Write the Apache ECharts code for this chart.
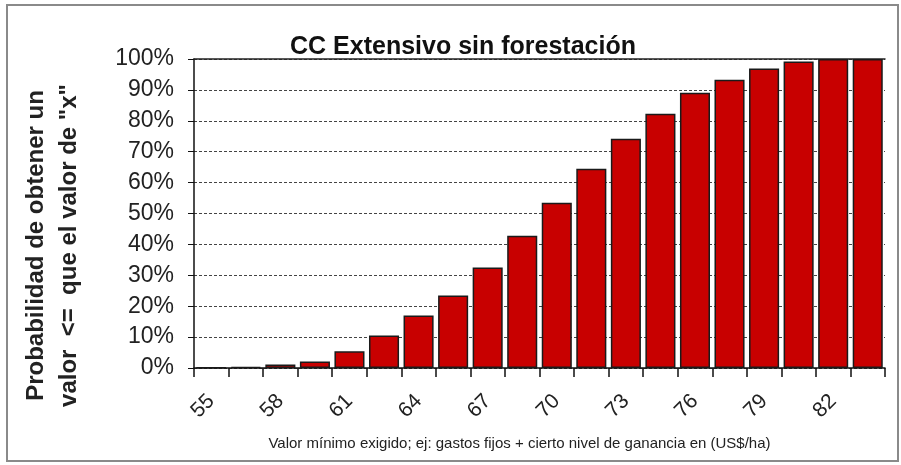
<!DOCTYPE html>
<html>
<head>
<meta charset="utf-8">
<script src="https://cdn.jsdelivr.net/npm/echarts@6/dist/echarts.min.js"></script>
<style>
  html, body { margin: 0; padding: 0; background: #fff; }
  #wrap { position: relative; width: 901px; height: 465px; }
  #chart { width: 901px; height: 465px; }
  .frame {
    position: absolute; left: 6px; top: 4px; width: 889px; height: 454px;
    border: 2px solid #8a8a8a; pointer-events: none;
  }
</style>
</head>
<body>
<div id="wrap">
  <div id="chart"></div>
  <div class="frame"></div>
</div>
<script>
// x categories (US$/ha), step 1.5 -- only every other one is labelled
const valores = ['55', '56.5', '58', '59.5', '61', '62.5', '64', '65.5', '67', '68.5',
  '70', '71.5', '73', '74.5', '76', '77.5', '79', '80.5', '82', '83.5']
// cumulative probability (%)
const probabilidad = [0.1, 0.3, 1.1, 2.1, 5.4, 10.5, 17.0, 23.5, 32.5, 42.8,
  53.5, 64.5, 74.2, 82.3, 89.1, 93.3, 96.9, 99.2, 100, 100]
const yTicks = [0, 10, 20, 30, 40, 50, 60, 70, 80, 90, 100]

const chart = echarts.init(document.getElementById('chart'))

const option = {
  animation: false,
  title: {
    text: 'CC Extensivo sin forestación',
    left: 458,
    textAlign: 'center',
    top: 30,
    textStyle: { fontFamily: 'Liberation Sans', fontSize: 25, fontWeight: 'bold', color: '#111' }
  },
  grid: { left: 194, right: 16, top: 59, bottom: 97 },
  xAxis: [{
    type: 'category',
    data: valores,
    boundaryGap: true,
    axisLine: { lineStyle: { color: '#111', width: 1.5 } },
    axisTick: { show: true, length: 9, interval: 0, lineStyle: { color: '#111', width: 1.5 } },
    axisLabel: {
      interval: 1,
      rotate: 45,
      margin: 30,
      fontFamily: 'Liberation Sans',
      fontSize: 21,
      color: '#222'
    },
    name: 'Valor mínimo exigido; ej: gastos fijos + cierto nivel de ganancia en (US$/ha)',
    nameLocation: 'middle',
    nameGap: 68,
    nameTextStyle: { fontFamily: 'Liberation Sans', fontSize: 15, color: '#222', padding: [0, 40, 0, 0] }
  }, {
    type: 'category',
    data: valores,
    position: 'top',
    axisLine: { show: true, lineStyle: { color: '#222', width: 1.5 } },
    axisTick: { show: false },
    axisLabel: { show: false }
  }],
  yAxis: {
    type: 'value',
    min: 0,
    max: 100,
    interval: 10,
    axisLine: { show: true, lineStyle: { color: '#111', width: 1.5 } },
    axisTick: { show: true, length: 6, lineStyle: { color: '#111' } },
    axisLabel: {
      margin: 20,
      fontFamily: 'Liberation Sans',
      fontSize: 23,
      color: '#222',
      formatter: v => (yTicks.includes(v) ? v + '%' : '')
    },
    splitLine: { show: true, lineStyle: { color: '#444', type: [3, 2], width: 1 } },
    name: 'Probabilidad de obtener un\nvalor  <=  que el valor de "x"',
    nameLocation: 'middle',
    nameRotate: 90,
    nameGap: 108,
    nameTextStyle: {
      fontFamily: 'Liberation Sans', fontSize: 24, fontWeight: 'bold',
      color: '#222', lineHeight: 33, padding: [0, 64, 0, 0]
    }
  },
  series: [{
    type: 'bar',
    data: probabilidad,
    barCategoryGap: '13%',
    itemStyle: { color: '#C80000', borderColor: '#1a1a1a', borderWidth: 1.5 }
  }]
}

chart.setOption(option)
</script>
</body>
</html>
